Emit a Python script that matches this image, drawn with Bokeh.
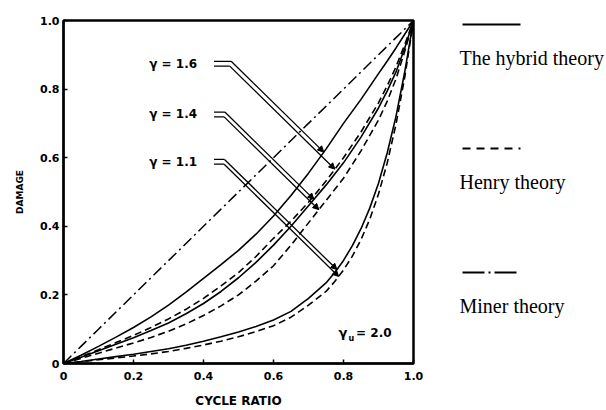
import numpy as np
from bokeh.plotting import figure
from bokeh.layouts import row
from bokeh.models import Range1d, FixedTicker, CustomJSTickFormatter, Arrow, NormalHead
from bokeh.core.properties import value
from bokeh.embed import file_html
from bokeh.resources import INLINE

# ---------------- data ----------------
cycle_ratio = [0, .05, .1, .15, .2, .25, .3, .35, .4, .45, .5, .55, .6, .65, .7, .75,
               .8, .85, .9, .925, .95, .975, 1.0]
hybrid_16 = [0, .024, .05, .077, .105, .136, .17, .208, .248, .288, .33, .377, .43, .49,
             .555, .625, .70, .77, .845, .882, .92, .96, 1.0]
henry_16 = [0, .02, .04, .061, .082, .105, .13, .158, .19, .226, .265, .312, .365, .415,
            .47, .532, .60, .675, .76, .81, .865, .93, 1.0]
hybrid_14 = [0, .018, .037, .056, .075, .096, .118, .145, .175, .21, .25, .295, .345, .40,
             .46, .52, .585, .66, .745, .795, .85, .92, 1.0]
henry_14 = [0, .015, .03, .045, .06, .076, .094, .115, .14, .168, .20, .24, .285, .345,
            .41, .475, .54, .62, .71, .765, .83, .91, 1.0]
miner = [0, .05, .1, .15, .2, .25, .3, .35, .4, .45, .5, .55, .6, .65, .7, .75,
         .8, .85, .9, .925, .95, .975, 1.0]

cycle_ratio_11 = [0, .05, .1, .15, .2, .25, .3, .35, .4, .45, .5, .55, .6, .65, .7, .75,
                  .775, .8, .825, .85, .875, .9, .925, .95, .975, 1.0]
hybrid_11 = [0, .006, .013, .02, .027, .035, .043, .053, .065, .078, .092, .108, .127, .152,
             .19, .235, .265, .3005, .343, .393, .453, .5255, .6145, .7205, .8505, 1.0]
henry_11 = [0, .005, .011, .016, .022, .028, .035, .044, .054, .065, .078, .093, .11, .135,
            .17, .21, .239, .2725, .3125, .361, .4205, .494, .585, .6975, .835, 1.0]

gamma_labels = ["\u03b3 = 1.6", "\u03b3 = 1.4", "\u03b3 = 1.1"]
gamma_label_y = [0.874, 0.726, 0.588]
# leader lines: constant (x + damage) along each 45-degree leader
leader_c_upper = [1.36, 1.194, 1.055]
leader_c_lower = [1.342, 1.178, 1.040]

ticks = [0, 0.2, 0.4, 0.6, 0.8, 1.0]
legend_labels = ["The hybrid theory", "Henry theory", "Miner theory"]

FONT = value("DejaVu Sans")
SERIF = value("Liberation Serif")

BORDER_TOP, BORDER_BOTTOM = 20, 43

# ---------------- main plot ----------------
p = figure(width=428, height=410, x_range=Range1d(0, 1), y_range=Range1d(0, 1),
           toolbar_location=None, output_backend="svg",
           min_border_left=63, min_border_right=15,
           min_border_top=BORDER_TOP, min_border_bottom=BORDER_BOTTOM)
p.grid.visible = False
p.outline_line_color = "black"
p.outline_line_width = 2.5
p.background_fill_color = "white"
p.border_fill_color = "white"

for ax in (p.xaxis[0], p.yaxis[0]):
    ax.ticker = FixedTicker(ticks=ticks)
    ax.formatter = CustomJSTickFormatter(code="return tick == 0 ? '0' : tick.toFixed(1);")
    ax.major_tick_in = 4
    ax.major_tick_out = 0
    ax.major_tick_line_width = 1.5
    ax.minor_tick_line_color = None
    ax.axis_line_width = 2
    ax.major_label_text_font = "DejaVu Sans"
    ax.major_label_text_font_style = "bold"
    ax.major_label_text_font_size = "11px"
    ax.major_label_text_color = "black"
    ax.axis_label_text_font = "DejaVu Sans"
    ax.axis_label_text_font_style = "bold"
    ax.axis_label_text_color = "black"

p.xaxis.axis_label = "CYCLE RATIO"
p.xaxis.axis_label_text_font_size = "12px"
p.xaxis.major_label_standoff = 8
p.xaxis.axis_label_standoff = 11
p.yaxis.axis_label = "DAMAGE"
p.yaxis.axis_label_text_font_size = "9px"
p.yaxis.major_label_standoff = 4
p.yaxis.axis_label_standoff = 12

x = np.array(cycle_ratio)
x11 = np.array(cycle_ratio_11)
p.line(x, miner, line_color="black", line_width=1.5, line_dash="11 4 2 4")
solid_series = [(x, hybrid_16), (x, hybrid_14), (x11, hybrid_11)]
dashed_series = [(x, henry_16), (x, henry_14), (x11, henry_11)]
for xs, s in solid_series:
    p.line(xs, s, line_color="black", line_width=1.6)
for xs, s in dashed_series:
    p.line(xs, s, line_color="black", line_width=1.6, line_dash="7 4")

# gamma labels with double leader lines
label_x0 = 0.245
leader_x0 = 0.43
half_gap = 0.007
for i, lab in enumerate(gamma_labels):
    ly = gamma_label_y[i]
    p.text([label_x0], [ly], text=[lab], text_font=FONT, text_font_style="bold",
           text_font_size="12px", text_baseline="middle", text_align="left", text_color="black")
    for c, (xs, curve), dy in ((leader_c_upper[i], solid_series[i], half_gap),
                               (leader_c_lower[i], dashed_series[i], -half_gap)):
        f = np.array(curve)
        g = xs + f
        tx = float(np.interp(c, g, xs))
        ty = float(np.interp(tx, xs, f))
        yl = ly + dy
        cx = c - yl
        p.line([leader_x0, cx], [yl, yl], line_color="black", line_width=1.3)
        p.add_layout(Arrow(x_start=cx, y_start=yl, x_end=tx, y_end=ty,
                           line_color="black", line_width=1.3,
                           end=NormalHead(size=6, fill_color="black", line_color="black")))

# gamma_u = 2.0
p.text([0.786], [0.09], text=["\u03b3"], text_font=FONT, text_font_style="bold",
       text_font_size="13px", text_baseline="middle", text_color="black")
p.text([0.814], [0.072], text=["u"], text_font=FONT, text_font_style="bold",
       text_font_size="8px", text_baseline="middle", text_color="black")
p.text([0.836], [0.09], text=["= 2.0"], text_font=FONT, text_font_style="bold",
       text_font_size="12px", text_baseline="middle", text_color="black")

# ---------------- legend panel (coordinates = page pixels) ----------------
leg = figure(width=178, height=410, x_range=Range1d(428, 606), y_range=Range1d(367, 20),
             toolbar_location=None, output_backend="svg",
             min_border_left=0, min_border_right=0,
             min_border_top=BORDER_TOP, min_border_bottom=BORDER_BOTTOM,
             x_axis_type=None, y_axis_type=None)
leg.grid.visible = False
leg.outline_line_color = None
leg_dashes = ["solid", "8 6", "22 4 2 4"]
for i, lab in enumerate(legend_labels):
    yy = 24 + 125.5 * i
    leg.line([462, 520], [yy, yy], line_color="black", line_width=2, line_dash=leg_dashes[i])
    leg.text([459], [yy + 34], text=[lab], text_font=SERIF, text_font_size="20px",
             text_baseline="alphabetic", text_align="left", text_color="black")

layout = row(p, leg)
open("out.html", "w").write(file_html(layout, INLINE))
